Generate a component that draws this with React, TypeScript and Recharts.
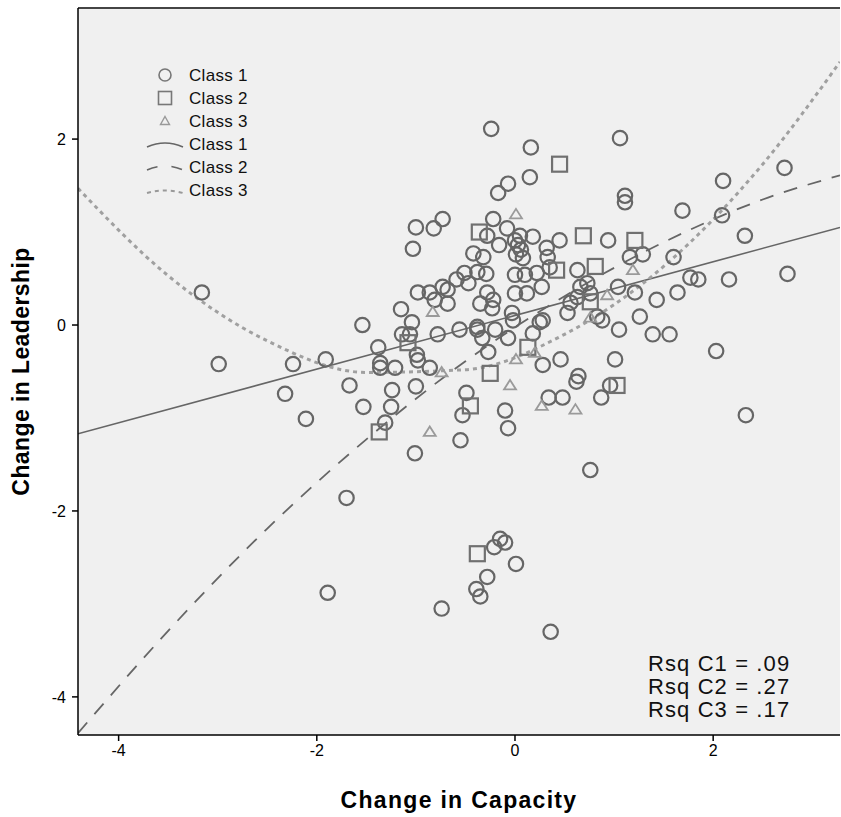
import {
  ComposedChart,
  Scatter,
  Line,
  XAxis,
  YAxis,
  CartesianGrid,
  ReferenceLine,
} from 'recharts'

// Observed points per class: [change in capacity, change in leadership]
const class1Points: [number, number][] = [
  [-3.16, 0.35], [-2.99, -0.42], [-2.32, -0.74], [-2.24, -0.42], [-2.11, -1.01], [-1.91, -0.37],
  [-1.67, -0.65], [-1.54, 0.0], [-1.53, -0.88], [-1.7, -1.86], [-1.89, -2.88],
  [-1.38, -0.24], [-1.36, -0.41], [-1.36, -0.46], [-1.21, -0.46], [-1.25, -0.88], [-1.24, -0.7],
  [-1.31, -1.05], [-1.0, -0.66], [-1.01, -1.38],
  [-1.14, -0.1], [-1.06, -0.1], [-1.04, 0.03], [-1.15, 0.17], [-0.99, -0.32], [-0.98, -0.38],
  [-0.86, -0.46], [-0.78, -0.1], [-0.56, -0.05], [-0.38, -0.05], [-0.33, -0.14], [-0.2, -0.05],
  [-0.07, -0.14], [-0.27, -0.29],
  [-0.49, -0.73], [-0.53, -0.97], [-0.55, -1.24], [-0.1, -0.92], [-0.07, -1.11],
  [-0.73, 1.14], [-0.82, 1.04], [-1.0, 1.05], [-1.03, 0.82], [-0.24, 2.11], [-0.07, 1.52],
  [-0.17, 1.42], [-0.22, 1.14], [-0.08, 1.04], [-0.28, 0.96], [-0.16, 0.86], [-0.42, 0.77],
  [-0.32, 0.73], [-0.29, 0.55], [-0.51, 0.56], [-0.59, 0.49], [-0.47, 0.45], [-0.38, 0.57],
  [-0.98, 0.35], [-0.86, 0.35], [-0.73, 0.41], [-0.68, 0.38], [-0.81, 0.27], [-0.68, 0.23],
  [-0.28, 0.35], [-0.22, 0.27], [-0.35, 0.23], [-0.23, 0.18], [0.0, 0.34], [0.0, 0.54],
  [-0.38, -0.02], [-0.03, 0.13],
  [0.0, 0.91], [0.03, 0.86], [0.06, 0.81], [0.01, 0.76], [0.08, 0.72], [0.05, 0.96],
  [0.16, 1.91], [1.06, 2.01], [0.15, 1.59], [1.11, 1.39], [1.11, 1.32], [1.69, 1.23],
  [0.18, 0.95], [0.32, 0.83], [0.45, 0.91], [0.94, 0.91], [1.16, 0.73], [1.29, 0.76],
  [0.33, 0.73], [0.35, 0.62], [0.63, 0.59], [0.22, 0.56], [0.1, 0.54],
  [1.6, 0.73], [1.77, 0.51], [1.85, 0.49], [1.64, 0.35], [1.43, 0.27], [1.26, 0.09],
  [1.04, 0.41], [1.21, 0.35], [0.73, 0.45], [0.66, 0.41], [0.76, 0.34], [0.56, 0.24],
  [0.83, 0.09], [0.88, 0.05], [0.27, 0.41], [0.12, 0.34], [0.28, 0.05],
  [0.28, -0.43], [0.46, -0.37], [1.01, -0.37], [1.05, -0.05], [1.39, -0.1], [1.56, -0.1],
  [0.64, -0.55], [0.62, -0.61], [0.96, -0.65], [0.87, -0.78], [0.34, -0.78], [0.48, -0.78],
  [0.76, -1.56],
  [2.1, 1.55], [2.72, 1.69], [2.09, 1.18], [2.32, 0.96], [2.16, 0.49], [2.75, 0.55],
  [2.03, -0.28], [2.33, -0.97],
  [-0.15, -2.3], [-0.1, -2.34], [-0.21, -2.39], [0.01, -2.57], [-0.28, -2.71], [-0.39, -2.84],
  [-0.35, -2.92], [-0.74, -3.05], [0.36, -3.3],
  [0.18, -0.09], [0.25, 0.03], [0.53, 0.13], [-0.02, 0.05], [0.63, 0.3],
]

const class2Points: [number, number][] = [
  [0.45, 1.73], [-0.36, 1.0], [0.69, 0.96], [1.21, 0.91], [0.81, 0.63], [0.42, 0.59],
  [0.76, 0.25], [-1.08, -0.19], [-0.25, -0.52], [0.13, -0.24], [-0.45, -0.87], [-1.37, -1.15],
  [1.03, -0.65], [-0.38, -2.46],
]

const class3Points: [number, number][] = [
  [0.01, 1.19], [-0.83, 0.14], [-0.74, -0.51], [0.01, -0.37], [-0.05, -0.65], [0.2, -0.3],
  [0.27, -0.87], [0.61, -0.91], [-0.86, -1.15], [1.19, 0.59], [0.93, 0.32], [0.76, 0.08],
]

// Fit lines
const fit1X = [-4.41, 3.28]
const fit1Y = [-1.17, 1.05]
const fit2X = [-4.41, -3.5, -2.5, -1.5, -0.5, 0.5, 1.5, 2.5, 3.28]
const fit2Y = [-4.39, -3.29, -2.19, -1.23, -0.39, 0.31, 0.89, 1.35, 1.61]
const fit3X = [-4.41, -3.5, -2.5, -1.5, -0.5, 0.5, 1.5, 2.5, 3.28]
const fit3Y = [1.47, 0.53, -0.17, -0.51, -0.48, -0.1, 0.63, 1.73, 2.83]

const xTicks = [-4, -2, 0, 2]
const yTicks = [-4, -2, 0, 2]
const legendLabels = ['Class 1', 'Class 2', 'Class 3', 'Class 1', 'Class 2', 'Class 3']
const rsqLabels = ['Rsq C1 = .09', 'Rsq C2 = .27', 'Rsq C3 = .17']

const FONT = '"Liberation Sans", Arial, sans-serif'

const toXY = (pts: [number, number][]) => pts.map(([x, y]) => ({ x, y }))
const toLine = (xs: number[], ys: number[]) => xs.map((x, i) => ({ x, y: ys[i] }))

const CircleMark = (props: any) => (
  <circle cx={props.cx} cy={props.cy} r={7.2} fill="none" stroke="#666" strokeWidth={2.2} />
)

const SquareMark = (props: any) => (
  <rect
    x={props.cx - 7.5}
    y={props.cy - 7.5}
    width={15}
    height={15}
    fill="none"
    stroke="#707070"
    strokeWidth={2.2}
  />
)

const TriangleMark = (props: any) => (
  <path
    d={`M${props.cx},${props.cy - 5.5} L${props.cx + 6},${props.cy + 4} L${props.cx - 6},${props.cy + 4} Z`}
    fill="none"
    stroke="#9a9a9a"
    strokeWidth={1.8}
  />
)

// legend drawn as an overlay so it doesn't eat into the plot area
function LegendBox() {
  const rowH = 23
  const cy = (i: number) => 12 + i * rowH
  return (
    <svg width={130} height={150} style={{ display: 'block' }}>
      <circle cx={25} cy={cy(0)} r={6} fill="none" stroke="#777" strokeWidth={1.6} />
      <rect x={18.5} y={cy(1) - 6.5} width={13} height={13} fill="none" stroke="#777" strokeWidth={1.6} />
      <path
        d={`M25,${cy(2) - 4.5} L29.5,${cy(2) + 3.5} L20.5,${cy(2) + 3.5} Z`}
        fill="none"
        stroke="#999"
        strokeWidth={1.4}
      />
      <path d={`M7,${cy(3) + 3} Q25,${cy(3) - 5} 43,${cy(3) + 3}`} fill="none" stroke="#666" strokeWidth={1.6} />
      <path
        d={`M7,${cy(4) + 3} Q25,${cy(4) - 5} 43,${cy(4) + 3}`}
        fill="none"
        stroke="#666"
        strokeWidth={1.6}
        strokeDasharray="11 14"
      />
      <path
        d={`M7,${cy(5) + 3} Q25,${cy(5) - 2} 43,${cy(5) + 3}`}
        fill="none"
        stroke="#999"
        strokeWidth={2}
        strokeDasharray="4 4"
      />
      {legendLabels.map((label, i) => (
        <text key={i} x={49} y={cy(i) + 6} fontSize={17} letterSpacing={0.3} fontFamily={FONT} fill="#111">
          {label}
        </text>
      ))}
    </svg>
  )
}

export default function App() {
  const axisTick = { fontSize: 16, fill: '#000', fontFamily: FONT }
  return (
    <div style={{ position: 'relative', width: 841, height: 817, background: '#fff' }}>
      <style>{`body { margin: 0; }`}</style>
      <ComposedChart width={841} height={817} margin={{ top: 8, right: 1, bottom: 22, left: 8 }}>
        <CartesianGrid fill="#f0f0f0" horizontal={false} vertical={false} />
        <XAxis
          type="number"
          dataKey="x"
          domain={[-4.41, 3.28]}
          ticks={xTicks}
          allowDataOverflow
          height={60}
          tick={axisTick}
          tickSize={6}
          tickMargin={4}
          axisLine={{ stroke: '#000', strokeWidth: 1.5 }}
          tickLine={{ stroke: '#000', strokeWidth: 1.5 }}
          label={{
            value: 'Change in Capacity',
            position: 'center',
            dy: 35,
            style: {
              fontSize: 23,
              fontWeight: 'bold',
              fill: '#000',
              fontFamily: FONT,
              letterSpacing: 1.3,
            },
          }}
        />
        <YAxis
          type="number"
          dataKey="y"
          domain={[-4.41, 3.41]}
          ticks={yTicks}
          allowDataOverflow
          width={70}
          tick={axisTick}
          tickSize={6}
          tickMargin={6}
          axisLine={{ stroke: '#000', strokeWidth: 1.5 }}
          tickLine={{ stroke: '#000', strokeWidth: 1.5 }}
          label={{
            value: 'Change in Leadership',
            position: 'center',
            angle: -90,
            dx: -22,
            style: {
              fontSize: 23,
              fontWeight: 'bold',
              fill: '#000',
              fontFamily: FONT,
              textAnchor: 'middle',
              letterSpacing: 0.4,
            },
          }}
        />
        <ReferenceLine y={3.41} stroke="#444" strokeWidth={2} />
        <Scatter data={toXY(class1Points)} shape={CircleMark} isAnimationActive={false} />
        <Scatter data={toXY(class2Points)} shape={SquareMark} isAnimationActive={false} />
        <Scatter data={toXY(class3Points)} shape={TriangleMark} isAnimationActive={false} />
        <Line
          data={toLine(fit1X, fit1Y)}
          dataKey="y"
          type="linear"
          stroke="#666"
          strokeWidth={1.6}
          dot={false}
          activeDot={false}
          isAnimationActive={false}
        />
        <Line
          data={toLine(fit2X, fit2Y)}
          dataKey="y"
          type="monotone"
          stroke="#666"
          strokeWidth={1.8}
          strokeDasharray="14 11"
          dot={false}
          activeDot={false}
          isAnimationActive={false}
        />
        <Line
          data={toLine(fit3X, fit3Y)}
          dataKey="y"
          type="monotone"
          stroke="#a0a0a0"
          strokeWidth={3}
          strokeDasharray="4 4"
          dot={false}
          activeDot={false}
          isAnimationActive={false}
        />
      </ComposedChart>
      <div style={{ position: 'absolute', left: 140, top: 63 }}>
        <LegendBox />
      </div>
      <div
        style={{
          position: 'absolute',
          left: 648,
          top: 652,
          fontFamily: FONT,
          fontSize: 22,
          lineHeight: '23px',
          letterSpacing: 1.1,
          color: '#111',
        }}
      >
        {rsqLabels.map((t, i) => (
          <div key={i}>{t}</div>
        ))}
      </div>
    </div>
  )
}
